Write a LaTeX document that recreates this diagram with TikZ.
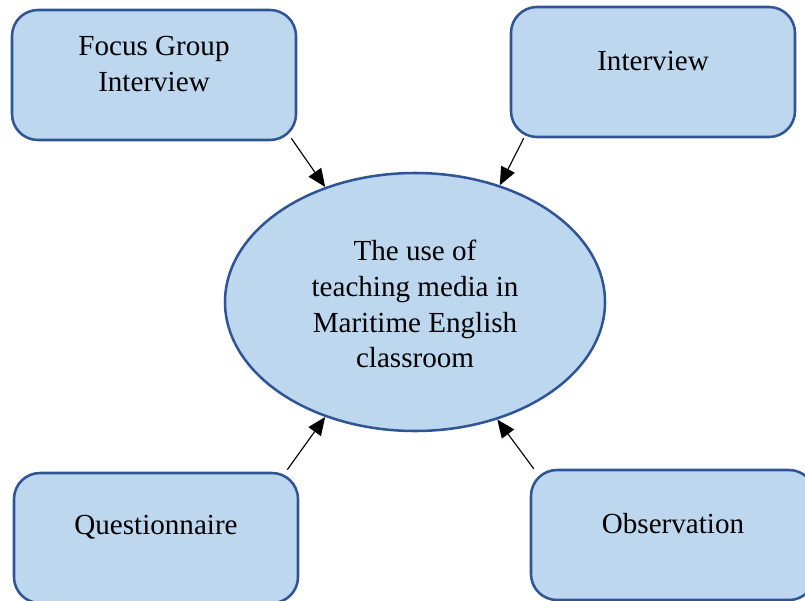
\documentclass[tikz,border=0pt]{standalone}
\usepackage{fontspec}
\setmainfont{Liberation Serif}
\usepackage{xcolor}
\usetikzlibrary{arrows.meta,shapes.geometric,positioning}
\definecolor{boxfill}{HTML}{BDD7EE}
\definecolor{boxline}{HTML}{2F5597}
\begin{document}
\begin{tikzpicture}[
box/.style={draw=boxline,fill=boxfill,line width=1.8pt,rounded corners=0.65cm,minimum width=7.1cm,minimum height=3.25cm},
lbl/.style={align=center,font=\fontsize{20.7}{25.5}\selectfont},
link/.style={-{Triangle[length=0.45cm,width=0.38cm]},line width=0.8pt}]
\useasboundingbox(0,0)rectangle(20.125,15);
\clip(0,0)rectangle(20.125,15);
% boxes
\node[box](focus)at(3.85,13.125){};
\node[box](inter)at(16.325,13.2){};
\node[box](quest)at(3.9,1.55){};
\node[box](obs)at(16.825,1.625){};
\node[draw=boxline,fill=boxfill,line width=1.8pt,ellipse,minimum width=9.5cm,minimum height=6.45cm](use)at(10.375,7.45){};
% texts
\node[lbl](focustxt)at([yshift=0.28cm]focus.center){Focus Group\\Interview};
\node[lbl](intertxt)at([yshift=0.28cm]inter.center){Interview};
\node[lbl](questtxt)at([yshift=0.28cm]quest.center){Questionnaire};
\node[lbl](obstxt)at([yshift=0.28cm]obs.center){Observation};
\node[lbl](usetxt)at([yshift=-0.05cm]use.center){The use of\\teaching media in\\Maritime English\\classroom};
% arrows
\draw[link]([shift={(-0.15,0.075)}]focus.south east)--(use.128);
\draw[link]([shift={(0.35,0)}]inter.south west)--(use.54);
\draw[link]([shift={(-0.3,0.05)}]quest.north east)--(use.232);
\draw[link]([shift={(0.1,0)}]obs.north west)--(use.305);
\end{tikzpicture}
\end{document}
